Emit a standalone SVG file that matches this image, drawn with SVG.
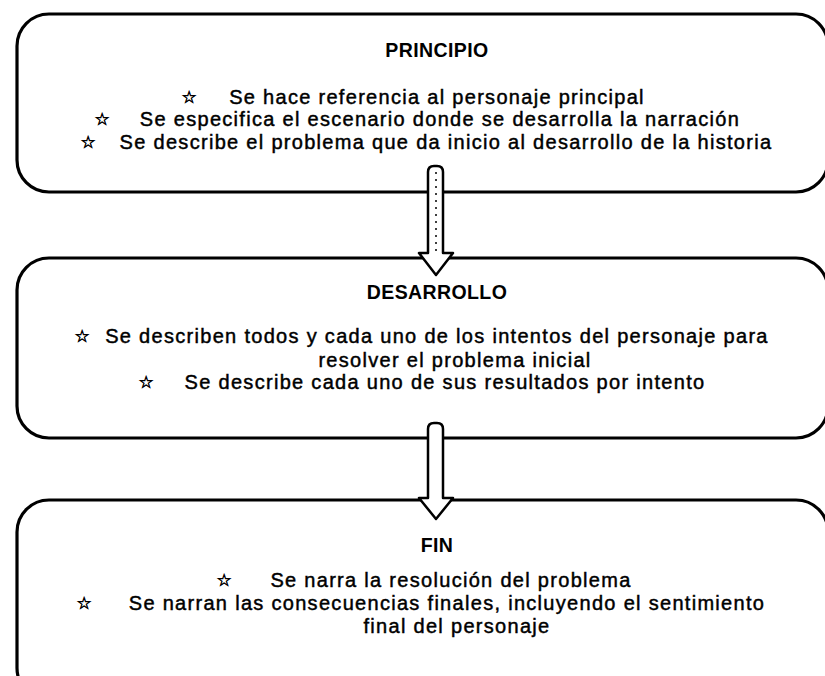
<svg xmlns="http://www.w3.org/2000/svg" width="825" height="676" viewBox="0 0 825 676">
<style>
.box{fill:#fff;stroke:#000;stroke-width:3.2}
.t{font-family:"Liberation Sans",Arial,sans-serif;font-size:20px;letter-spacing:1.3px;fill:#000;stroke:#000;stroke-width:0.45;text-anchor:middle}
.h{font-family:"Liberation Sans",Arial,sans-serif;font-size:19.5px;font-weight:bold;letter-spacing:0.4px;fill:#000;text-anchor:middle}
.s{font-family:"DejaVu Sans",sans-serif;font-size:17px;fill:#000;stroke:#000;stroke-width:0.6;text-anchor:middle}
.arrow{fill:#fff;stroke:#000;stroke-width:2.5;stroke-linejoin:round}
.dots{stroke:#000;stroke-width:1.5;stroke-dasharray:2 5}
</style>
<rect width="825" height="676" fill="#fff"/>
<g id="principio">
<rect class="box" x="17" y="14" width="811" height="178" rx="32"/>
<text class="h" x="437" y="57">PRINCIPIO</text>
<text class="s" x="189" y="103">☆</text>
<text class="t" x="437" y="104">Se hace referencia al personaje principal</text>
<text class="s" x="102" y="125">☆</text>
<text class="t" x="440" y="126">Se especifica el escenario donde se desarrolla la narración</text>
<text class="s" x="88" y="148">☆</text>
<text class="t" x="446" y="149">Se describe el problema que da inicio al desarrollo de la historia</text>
</g>
<g id="desarrollo">
<rect class="box" x="17" y="258" width="811" height="180" rx="32"/>
<text class="h" x="437" y="299">DESARROLLO</text>
<text class="s" x="82" y="342">☆</text>
<text class="t" x="437" y="343">Se describen todos y cada uno de los intentos del personaje para</text>
<text class="t" x="455" y="367">resolver el problema inicial</text>
<text class="s" x="146" y="388">☆</text>
<text class="t" x="445" y="389">Se describe cada uno de sus resultados por intento</text>
</g>
<g id="fin">
<rect class="box" x="17" y="500" width="811" height="200" rx="32"/>
<text class="h" x="437" y="552">FIN</text>
<text class="s" x="224" y="586">☆</text>
<text class="t" x="451" y="587">Se narra la resolución del problema</text>
<text class="s" x="84" y="609">☆</text>
<text class="t" x="447" y="610">Se narran las consecuencias finales, incluyendo el sentimiento</text>
<text class="t" x="457" y="633">final del personaje</text>
</g>
<g id="connectors">
<path class="arrow" d="M428,172 Q428,166 434,166 L437,166 Q443,166 443,172 L443,253 L453,253 L436,275 L419,253 L428,253 Z"/>
<line class="dots" x1="436" y1="172" x2="436" y2="252"/>
<path class="arrow" d="M428,429 Q428,423 434,423 L437,423 Q443,423 443,429 L443,498 L453,498 L436,519 L419,498 L428,498 Z"/>
</g>
</svg>
